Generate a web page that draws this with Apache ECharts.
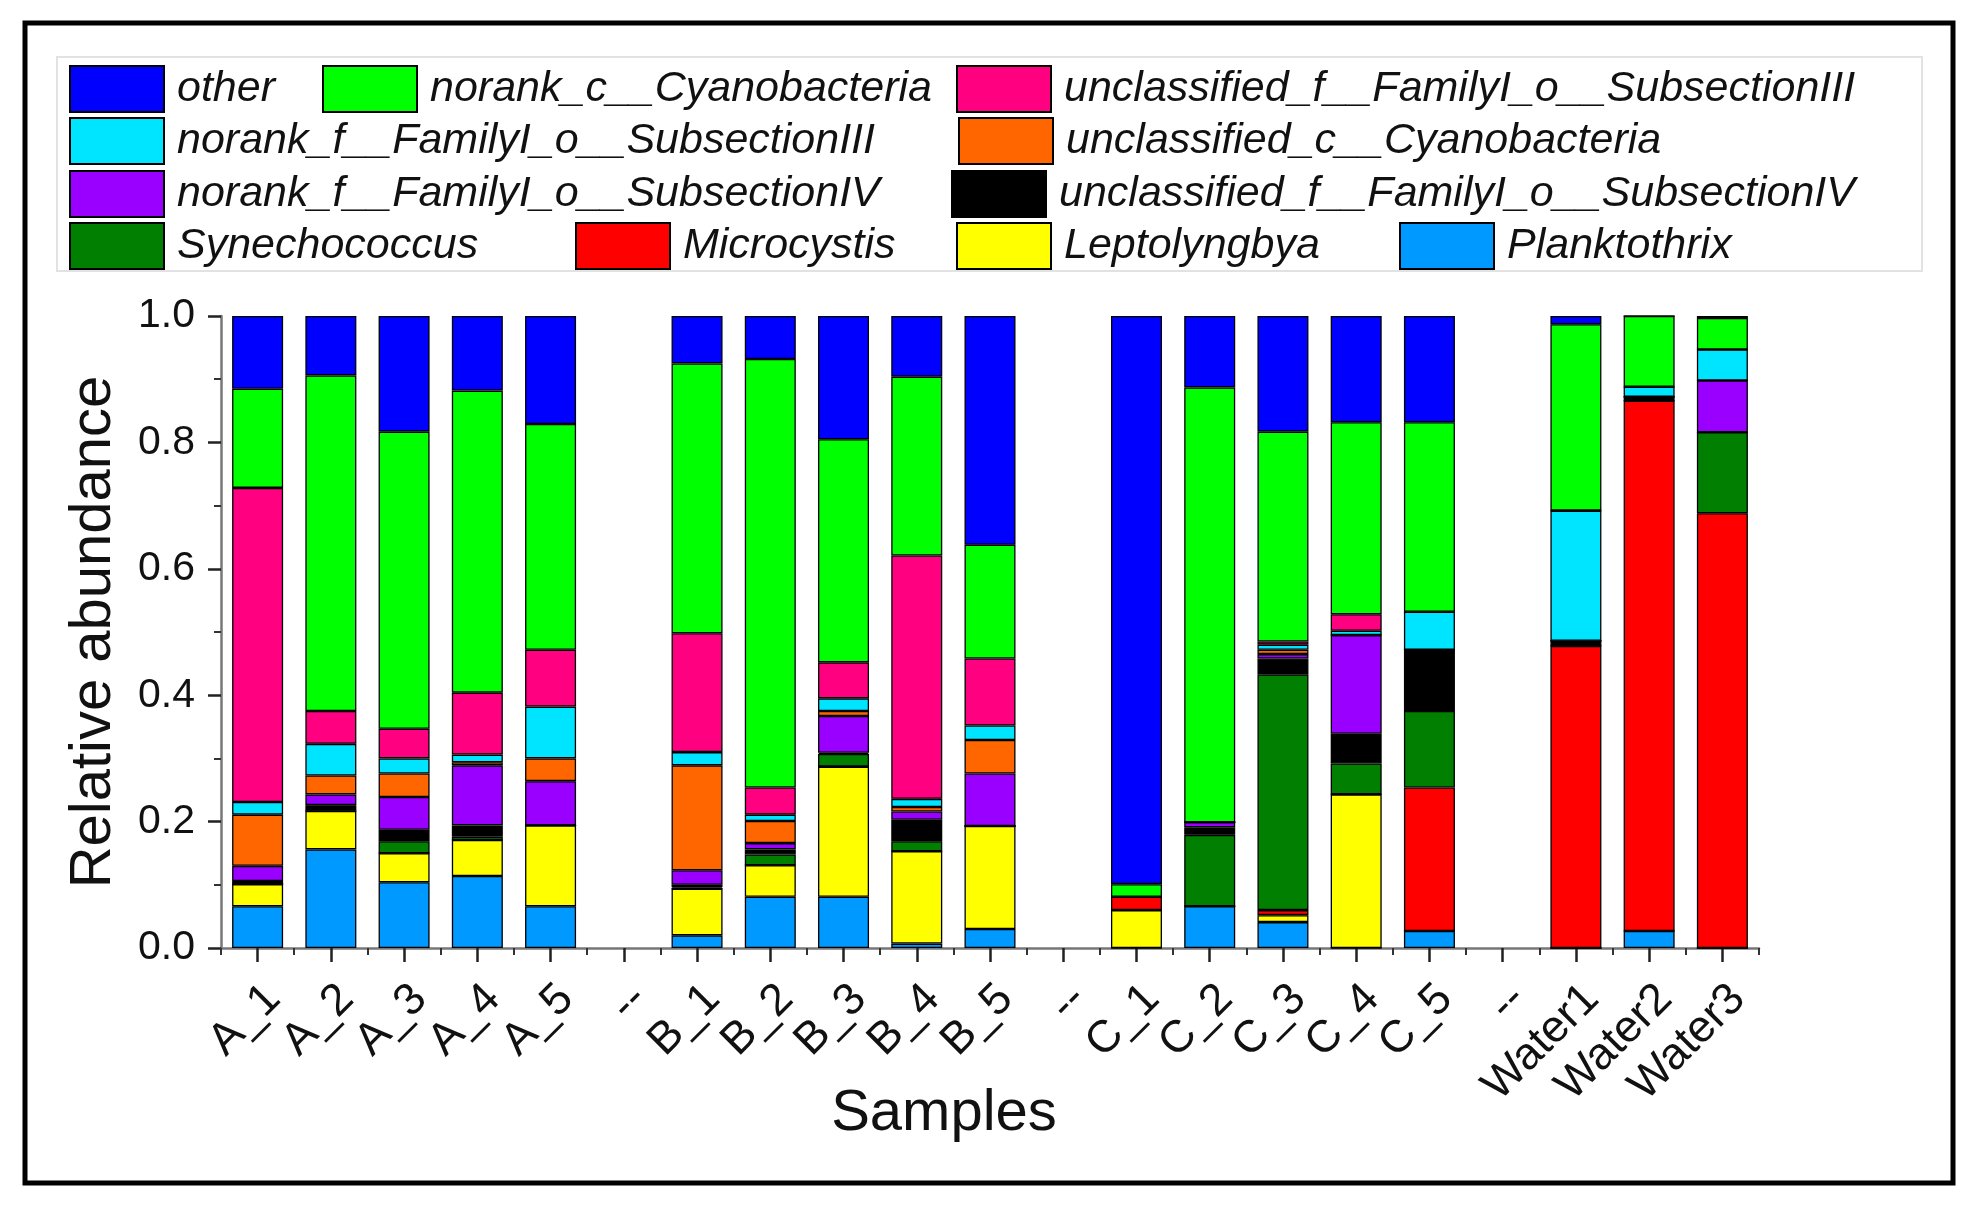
<!DOCTYPE html>
<html>
<head>
<meta charset="utf-8">
<script src="https://cdn.jsdelivr.net/npm/echarts@6/dist/echarts.min.js"></script>
<style>
html,body{margin:0;padding:0;background:#fff;}
#chart{width:1980px;height:1205px;}
</style>
</head>
<body>
<div id="chart"></div>
<script>
const categories = ['A_1','A_2','A_3','A_4','A_5','--','B_1','B_2','B_3','B_4','B_5','--','C_1','C_2','C_3','C_4','C_5','--','Water1','Water2','Water3'];
const yTicks = [0, 0.2, 0.4, 0.6, 0.8, 1.0];

// bottom-up stacking order
const planktothrix = [0.066,0.156,0.104,0.114,0.066,null,0.020,0.081,0.081,0.007,0.030,null,0,0.066,0.041,0,0.027,null,0,0.027,0];
const leptolyngbya = [0.035,0.061,0.046,0.057,0.128,null,0.074,0.050,0.206,0.146,0.163,null,0.060,0,0.011,0.243,0,null,0,0,0];
const microcystis = [0,0,0,0,0,null,0,0,0,0,0,null,0.021,0,0.008,0,0.227,null,0.478,0.839,0.688];
const synechococcus = [0,0.003,0.019,0.005,0,null,0.002,0.017,0.020,0.016,0,null,0,0.113,0.373,0.049,0.121,null,0,0,0.128];
const unclassIV = [0.005,0.006,0.018,0.018,0,null,0.004,0.008,0.002,0.034,0,null,0,0.012,0.025,0.047,0.097,null,0.008,0.006,0];
const norankIV = [0.024,0.017,0.052,0.095,0.070,null,0.023,0.010,0.058,0.013,0.083,null,0,0.008,0.007,0.156,0,null,0,0,0.082];
const unclassCyano = [0.081,0.030,0.037,0.005,0.036,null,0.166,0.035,0.008,0.007,0.053,null,0,0,0.007,0,0,null,0,0,0];
const norankIII = [0.020,0.050,0.024,0.012,0.082,null,0.021,0.010,0.020,0.013,0.023,null,0,0,0.008,0.007,0.060,null,0.206,0.016,0.049];
const unclassIII = [0.497,0.052,0.047,0.098,0.090,null,0.188,0.043,0.057,0.385,0.106,null,0,0,0.005,0.026,0,null,0,0,0];
const norankCyano = [0.157,0.531,0.470,0.478,0.357,null,0.427,0.678,0.353,0.283,0.180,null,0.020,0.688,0.332,0.304,0.300,null,0.295,0.112,0.050];
const other = [0.115,0.094,0.183,0.118,0.171,null,0.075,0.068,0.195,0.096,0.362,null,0.899,0.113,0.183,0.168,0.168,null,0.013,0,0.003];

const seriesDefs = [
  ['Planktothrix', planktothrix, '#0099FF'],
  ['Leptolyngbya', leptolyngbya, '#FFFF00'],
  ['Microcystis', microcystis, '#FF0000'],
  ['Synechococcus', synechococcus, '#007F00'],
  ['unclassified_f__FamilyI_o__SubsectionIV', unclassIV, '#000000'],
  ['norank_f__FamilyI_o__SubsectionIV', norankIV, '#9900FF'],
  ['unclassified_c__Cyanobacteria', unclassCyano, '#FF6600'],
  ['norank_f__FamilyI_o__SubsectionIII', norankIII, '#00E5FF'],
  ['unclassified_f__FamilyI_o__SubsectionIII', unclassIII, '#FF0080'],
  ['norank_c__Cyanobacteria', norankCyano, '#00FF00'],
  ['other', other, '#0000FF']
];

const legendPlaces = [
  ['other', 69, 0], ['norank_c__Cyanobacteria', 322, 0], ['unclassified_f__FamilyI_o__SubsectionIII', 956, 0],
  ['norank_f__FamilyI_o__SubsectionIII', 69, 1], ['unclassified_c__Cyanobacteria', 958, 1],
  ['norank_f__FamilyI_o__SubsectionIV', 69, 2], ['unclassified_f__FamilyI_o__SubsectionIV', 951, 2],
  ['Synechococcus', 69, 3], ['Microcystis', 575, 3], ['Leptolyngbya', 956, 3], ['Planktothrix', 1399, 3]
];
const rowCenters = [88, 140, 193, 245];

const FONT = '"Liberation Sans", Arial, sans-serif';

const chart = echarts.init(document.getElementById('chart'), null, {renderer: 'canvas'});

const legends = legendPlaces.map(([name, left, row]) => ({
  data: [name],
  left: left,
  top: rowCenters[row] - 23,
  padding: 0,
  itemWidth: 94,
  itemHeight: 46,
  icon: 'rect',
  selectedMode: false,
  textStyle: {fontFamily: FONT, fontStyle: 'italic', fontSize: 43, color: '#111', padding: [0,0,0,8]}
}));

const option = {
  animation: false,
  backgroundColor: '#fff',
  graphic: [
    {type: 'rect', shape: {x: 25, y: 23, width: 1928, height: 1160}, style: {fill: 'none', stroke: '#000', lineWidth: 5}, z: 0},
    {type: 'rect', shape: {x: 57, y: 57, width: 1865, height: 214}, style: {fill: 'none', stroke: '#e2e2e2', lineWidth: 2}, z: 0}
  ],
  legend: legends,
  grid: {left: 221, right: 221, top: 316, bottom: 257, containLabel: false},
  xAxis: [
    {
      type: 'category',
      data: categories,
      boundaryGap: true,
      name: 'Samples',
      nameLocation: 'middle',
      nameGap: 137,
      nameMoveOverlap: false,
      nameTextStyle: {fontFamily: FONT, fontSize: 58, color: '#111', padding: [0, 92, 0, 0]},
      axisLine: {show: true, lineStyle: {color: '#777', width: 2.5}},
      axisTick: {show: true, alignWithLabel: true, length: 14, lineStyle: {color: '#222', width: 2.5}},
      axisLabel: {rotate: 45, interval: 0, margin: 28, verticalAlign: 'top', fontFamily: FONT, fontSize: 45, color: '#111'},
      splitLine: {show: false}
    },
    {
      type: 'value',
      min: 0, max: 21, interval: 1,
      position: 'bottom',
      axisLine: {show: false},
      axisTick: {show: true, length: 7, lineStyle: {color: '#333', width: 2}},
      axisLabel: {show: false},
      splitLine: {show: false}
    }
  ],
  yAxis: {
    type: 'value',
    min: 0, max: 1, interval: 0.2,
    name: 'Relative abundance',
    nameLocation: 'middle',
    nameGap: 98,
    nameMoveOverlap: false,
    nameTextStyle: {fontFamily: FONT, fontSize: 58, color: '#111'},
    axisLine: {show: true, lineStyle: {color: '#777', width: 2.5}},
    axisTick: {show: true, length: 13, lineStyle: {color: '#222', width: 2.5}},
    minorTick: {show: true, splitNumber: 2, length: 7, lineStyle: {color: '#333', width: 2}},
    axisLabel: {margin: 26, fontFamily: FONT, fontSize: 41, color: '#111', formatter: v => v.toFixed(1)},
    splitLine: {show: false}
  },
  series: seriesDefs.map(([name, data, color]) => ({
    name: name,
    type: 'bar',
    stack: 'total',
    xAxisIndex: 0,
    data: data,
    barWidth: 51,
    itemStyle: {color: color, borderColor: '#000', borderWidth: 1.3},
    emphasis: {disabled: true}
  }))
};
chart.setOption(option);
</script>
</body>
</html>
